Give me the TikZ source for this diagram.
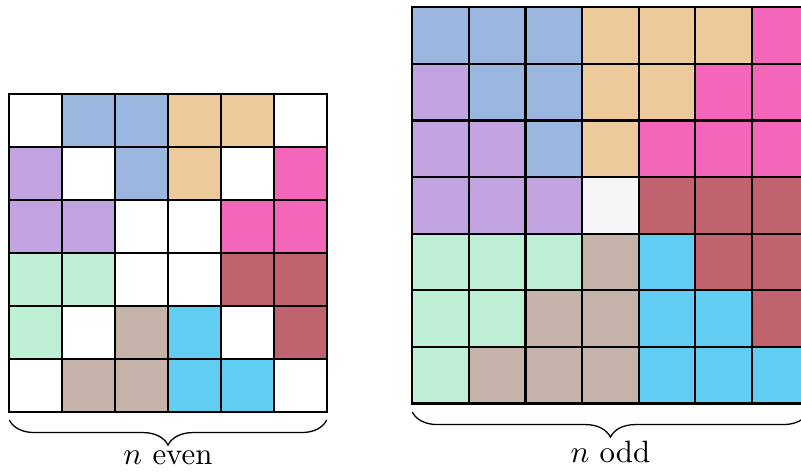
\documentclass[tikz,border=0pt]{standalone}
\usetikzlibrary{decorations.pathreplacing}
\definecolor{cW}{HTML}{FFFFFF}
\definecolor{cB}{HTML}{9BB7E0}
\definecolor{cT}{HTML}{ECCA9C}
\definecolor{cK}{HTML}{F466B9}
\definecolor{cP}{HTML}{C1A3E0}
\definecolor{cG}{HTML}{BDEFD4}
\definecolor{cR}{HTML}{BF646E}
\definecolor{cA}{HTML}{C5B3AA}
\definecolor{cC}{HTML}{62CDF3}
\definecolor{cN}{HTML}{F6F6F8}
\begin{document}
\begin{tikzpicture}[x=0.35pt,y=-0.35pt,
  gridline/.style={line width=0.75pt, line cap=rect},
  bracepath/.style={decorate, decoration={brace, mirror, amplitude=8.8pt}, line width=0.45pt},
  caption/.style={anchor=base, font=\fontsize{10.8}{13}\selectfont, inner sep=0pt}]
\useasboundingbox (0,0) rectangle (801,473);
\clip (0,0) rectangle (801,473);
% left grid
\def\LX{9.3}\def\LY{94.3}\def\LS{52.9}
\foreach \row [count=\r from 0] in {{W,B,B,T,T,W},{P,W,B,T,W,K},{P,P,W,W,K,K},{G,G,W,W,R,R},{G,W,A,C,W,R},{W,A,A,C,C,W}}{
  \foreach \col [count=\c from 0] in \row {
    \fill[c\col] (\LX+\c*\LS,\LY+\r*\LS) rectangle ++(\LS,\LS);
  }
}
\foreach \i in {0,...,6}{
  \draw[gridline] (\LX+\i*\LS,\LY) -- (\LX+\i*\LS,\LY+6*\LS);
  \draw[gridline] (\LX,\LY+\i*\LS) -- (\LX+6*\LS,\LY+\i*\LS);
}
% right grid
\def\RX{412.3}\def\RY{7.3}\def\RS{56.6}
\foreach \row [count=\r from 0] in {{B,B,B,T,T,T,K},{P,B,B,T,T,K,K},{P,P,B,T,K,K,K},{P,P,P,N,R,R,R},{G,G,G,A,C,R,R},{G,G,A,A,C,C,R},{G,A,A,A,C,C,C}}{
  \foreach \col [count=\c from 0] in \row {
    \fill[c\col] (\RX+\c*\RS,\RY+\r*\RS) rectangle ++(\RS,\RS);
  }
}
\foreach \i in {0,...,7}{
  \draw[gridline] (\RX+\i*\RS,\RY) -- (\RX+\i*\RS,\RY+7*\RS);
  \draw[gridline] (\RX,\RY+\i*\RS) -- (\RX+7*\RS,\RY+\i*\RS);
}
% braces
\coordinate (la) at (9.3,420);
\coordinate (lb) at (326.7,420);
\draw[bracepath] (la) -- (lb);
\coordinate (ra) at (412.3,412);
\coordinate (rb) at (808.5,412);
\draw[bracepath] (ra) -- (rb);
\node[caption] (even) at (168,465) {$n$ even};
\node[caption] (odd) at (610.4,463) {$n$ odd};
\end{tikzpicture}
\end{document}
